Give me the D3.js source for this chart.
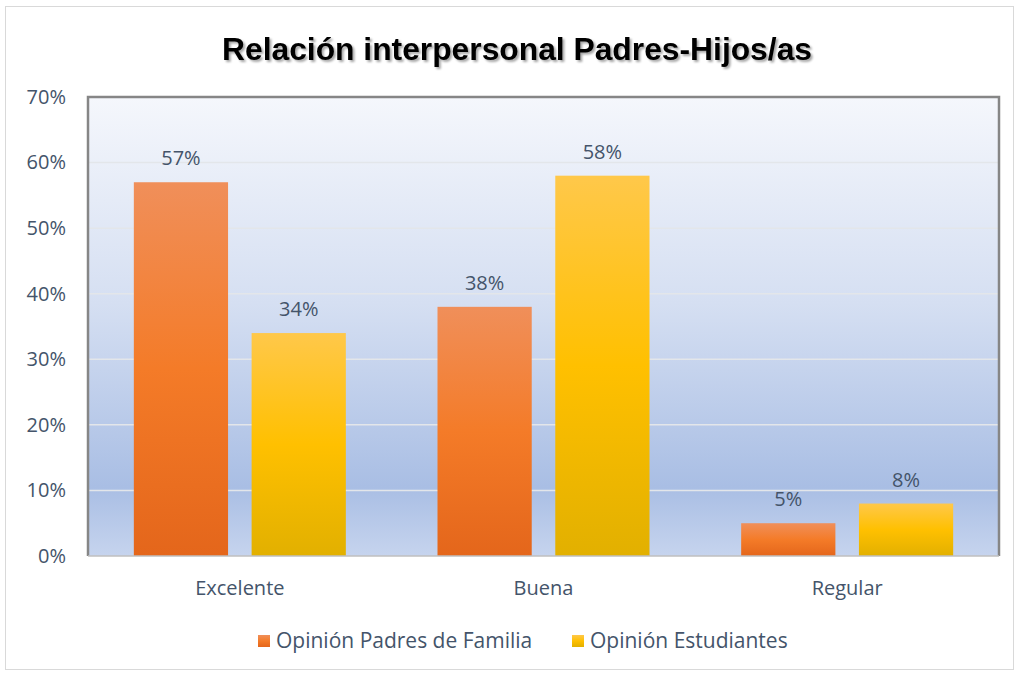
<!DOCTYPE html>
<html>
<head>
<meta charset="utf-8">
<script src="https://cdn.jsdelivr.net/npm/d3@7"></script>
<style>
  body { margin: 0; background: #fff; }
  text { font-family: "Open Sans", "Noto Sans", sans-serif; }
</style>
</head>
<body>
<script>
// datos del gráfico
var categories = ["Excelente", "Buena", "Regular"];
var seriesNames = ["Opinión Padres de Familia", "Opinión Estudiantes"];
var padres = [0.57, 0.38, 0.05];
var estudiantes = [0.34, 0.58, 0.08];
var yTicks = [0, 0.1, 0.2, 0.3, 0.4, 0.5, 0.6, 0.7];

var fullWidth = 1019, fullHeight = 675;
var margin = {top: 97, right: 20, bottom: 119, left: 88},
    width = fullWidth - margin.left - margin.right,
    height = fullHeight - margin.top - margin.bottom;

var svg = d3.select("body").append("svg")
    .attr("width", fullWidth)
    .attr("height", fullHeight);

var defs = svg.append("defs");

// fondo del área de trazado
var bg = defs.append("linearGradient").attr("id", "bg")
    .attr("x1", 0).attr("y1", 0).attr("x2", 0).attr("y2", 1);
bg.append("stop").attr("offset", "0%").attr("stop-color", "#f5f7fc");
bg.append("stop").attr("offset", "45%").attr("stop-color", "#d5dff2");
bg.append("stop").attr("offset", "85%").attr("stop-color", "#a9bee4");
bg.append("stop").attr("offset", "100%").attr("stop-color", "#c6d4ee");

var g1 = defs.append("linearGradient").attr("id", "gOrange")
    .attr("x1", 0).attr("y1", 0).attr("x2", 0).attr("y2", 1);
g1.append("stop").attr("offset", "0%").attr("stop-color", "#f08f5a");
g1.append("stop").attr("offset", "50%").attr("stop-color", "#f47b28");
g1.append("stop").attr("offset", "100%").attr("stop-color", "#e4661b");

var g2 = defs.append("linearGradient").attr("id", "gYellow")
    .attr("x1", 0).attr("y1", 0).attr("x2", 0).attr("y2", 1);
g2.append("stop").attr("offset", "0%").attr("stop-color", "#ffc84a");
g2.append("stop").attr("offset", "50%").attr("stop-color", "#ffc000");
g2.append("stop").attr("offset", "100%").attr("stop-color", "#e2b000");

var shadow = defs.append("filter").attr("id", "shadow")
    .attr("x", "-5%").attr("y", "-20%").attr("width", "110%").attr("height", "150%");
shadow.append("feDropShadow").attr("dx", 2).attr("dy", 2).attr("stdDeviation", 1)
    .attr("flood-color", "#000").attr("flood-opacity", 0.35);

// borde del gráfico
svg.append("rect")
    .attr("x", 5.5).attr("y", 6.5)
    .attr("width", fullWidth - 11).attr("height", fullHeight - 12)
    .attr("fill", "#fff").attr("stroke", "#d9d9d9").attr("stroke-width", 1);

// título
svg.append("text")
    .attr("x", 517).attr("y", 60)
    .attr("text-anchor", "middle")
    .style("font-family", "Arial, 'Liberation Sans', sans-serif")
    .style("font-weight", "bold")
    .style("font-size", "31px")
    .attr("textLength", 590)
    .attr("lengthAdjust", "spacingAndGlyphs")
    .attr("filter", "url(#shadow)")
    .text("Relación interpersonal Padres-Hijos/as");

var g = svg.append("g").attr("transform", "translate(" + margin.left + "," + margin.top + ")");

var x0 = d3.scaleBand().domain(categories).range([0, width]).paddingOuter(0).paddingInner(0);
var x1 = d3.scaleBand().domain(seriesNames)
    .range([x0.bandwidth() / 2 - 106, x0.bandwidth() / 2 + 106])
    .paddingInner(0.2).paddingOuter(0);
var y = d3.scaleLinear().domain([0, 0.7]).range([height, 0]);

g.append("rect")
    .attr("width", width).attr("height", height)
    .attr("fill", "url(#bg)");

// líneas de cuadrícula
g.append("g")
    .selectAll("line")
    .data(yTicks.slice(1, -1))
    .join("line")
    .attr("x1", 0).attr("x2", width)
    .attr("y1", d => y(d)).attr("y2", d => y(d))
    .attr("stroke", "#e3e6ea").attr("stroke-width", 1.5);

var data = categories.map((c, i) => ({cat: c, values: [padres[i], estudiantes[i]]}));
var fills = ["url(#gOrange)", "url(#gYellow)"];

var groups = g.selectAll("g.cat")
    .data(data)
    .join("g")
    .attr("class", "cat")
    .attr("transform", d => "translate(" + x0(d.cat) + ",0)");

groups.selectAll("rect")
    .data(d => d.values.map((v, j) => ({s: seriesNames[j], v: v, j: j})))
    .join("rect")
    .attr("x", d => x1(d.s))
    .attr("width", x1.bandwidth())
    .attr("y", d => y(d.v))
    .attr("height", d => y(0) - y(d.v))
    .attr("fill", d => fills[d.j]);

groups.selectAll("text.lbl")
    .data(d => d.values.map((v, j) => ({s: seriesNames[j], v: v, j: j})))
    .join("text")
    .attr("class", "lbl")
    .attr("x", d => x1(d.s) + x1.bandwidth() / 2)
    .attr("y", d => y(d.v) - 17)
    .attr("text-anchor", "middle")
    .style("font-size", "20px")
    .attr("fill", "#44546a")
    .text(d => Math.round(d.v * 100) + "%");

// marco del área de trazado
g.append("path")
    .attr("d", "M0," + height + "V0H" + width + "V" + height)
    .attr("fill", "none").attr("stroke", "#868686").attr("stroke-width", 2.5);
g.append("line")
    .attr("x1", 0).attr("x2", width).attr("y1", height).attr("y2", height)
    .attr("stroke", "#bfbfbf").attr("stroke-width", 1.5);

// eje Y
var yAxis = d3.axisLeft(y).tickValues(yTicks).tickFormat(d3.format(".0%")).tickSize(0).tickPadding(22);
g.append("g").call(yAxis)
    .call(a => a.select(".domain").remove())
    .selectAll("text")
    .style("font-size", "20px")
    .attr("fill", "#44546a");

// eje X
var xAxis = d3.axisBottom(x0).tickSize(0).tickPadding(25);
g.append("g").attr("transform", "translate(0," + height + ")").call(xAxis)
    .call(a => a.select(".domain").remove())
    .selectAll("text")
    .style("font-size", "20px")
    .attr("fill", "#44546a");

// leyenda
var legendX = [258, 572];
var legend = svg.append("g").selectAll("g")
    .data(seriesNames)
    .join("g")
    .attr("transform", (d, i) => "translate(" + legendX[i] + ",635)");
legend.append("rect")
    .attr("width", 12).attr("height", 12)
    .attr("fill", (d, i) => fills[i]);
legend.append("text")
    .attr("x", 18).attr("y", 13)
    .style("font-size", "21px")
    .attr("fill", "#44546a")
    .text(d => d);
</script>
</body>
</html>
